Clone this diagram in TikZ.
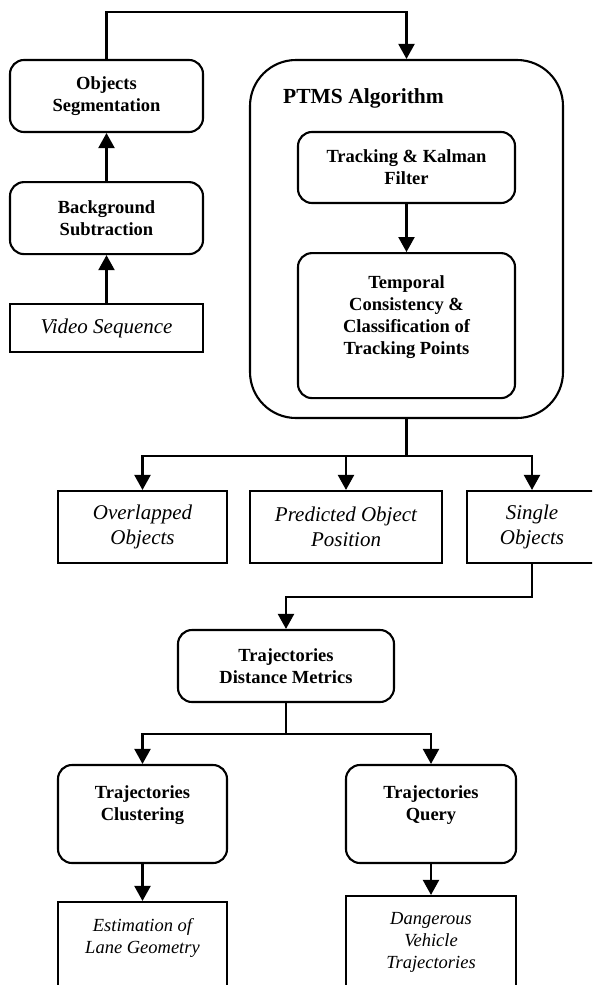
\documentclass[tikz,border=0pt]{standalone}
\usepackage{fontspec}
\setmainfont{Liberation Serif}
\usepackage{tikz}
\usetikzlibrary{positioning, arrows.meta}
\tikzset{
    procBox/.style={rectangle, draw=black, line width=2.1pt, rounded corners=14pt, fill=white, align=center, inner sep=0pt, font=\fontsize{18.5}{22}\selectfont\bfseries},
    dataBox/.style={rectangle, draw=black, line width=2.1pt, fill=white, align=center, inner sep=0pt, font=\fontsize{21}{25}\selectfont\itshape},
    outBox/.style={dataBox, font=\fontsize{18.5}{22}\selectfont\itshape},
    algoFrame/.style={rectangle, draw=black, line width=2.1pt, rounded corners=46pt, minimum width=313pt, minimum height=358pt},
    title/.style={font=\fontsize{21.5}{26}\selectfont\bfseries, anchor=west, inner sep=0pt},
    arrow/.style={-{Triangle[length=15pt, width=16pt]}, line width=2.1pt},
    link/.style={line width=2.1pt}
}

\begin{document}
\begin{tikzpicture}[x=1pt, y=-1pt]
        \useasboundingbox (0,0) rectangle (592,985);
        \clip (0,0) rectangle (592,985);

        % Preprocessing
        \node[procBox, minimum width=193pt, minimum height=72pt] (seg) at (106.5,96) {Objects\\ Segmentation};
        \node[procBox, minimum width=193pt, minimum height=72pt, below=48pt of seg] (bgsub) {Background\\ Subtraction};
        \node[dataBox, minimum width=193pt, minimum height=48pt, below=48pt of bgsub] (video) {Video Sequence};

        % PTMS block
        \node[algoFrame] (ptms) at (406.5,239) {};
        \node[title] (ptmsTitle) at (283,98) {PTMS Algorithm};
        \node[procBox, minimum width=217pt, minimum height=71pt] (kalman) at (406.5,167.5) {Tracking \& Kalman\\ Filter};
        \node[procBox, minimum width=217pt, minimum height=145pt, below=48pt of kalman] (temporal) {Temporal\\ Consistency \&\\ Classification of\\ Tracking Points\\};

        % Tracking outputs
        \node[dataBox, minimum width=169pt, minimum height=72pt] (overlap) at (142.5,527) {Overlapped\\ Objects};
        \node[dataBox, minimum width=192pt, minimum height=72pt] (predict) at (346,527) {Predicted Object\\ Position};
        \node[dataBox, minimum width=130pt, minimum height=72pt] (single) at (532,527) {Single\\ Objects};

        % Trajectory analysis
        \node[procBox, minimum width=216pt, minimum height=72pt] (tdm) at (286,666) {Trajectories\\ Distance Metrics};
        \node[procBox, minimum width=169pt, minimum height=98pt] (clust) at (142.5,814) {Trajectories\\ Clustering\\};
        \node[procBox, minimum width=170pt, minimum height=98pt] (query) at (431,814) {Trajectories\\ Query\\};
        \node[outBox, minimum width=169pt, minimum height=90pt] (lane) at (142.5,947) {Estimation of\\ Lane Geometry\\};
        \node[outBox, minimum width=170pt, minimum height=110pt] (danger) at (431,951) {Dangerous\\ Vehicle\\ Trajectories\\};

        % Rails and junctions
        \coordinate (topRail) at (0,12);
        \coordinate (splitA) at (406.5,456);
        \coordinate (railB) at (0,597);
        \coordinate (splitC) at (286,734);

        \draw[arrow] (video) -- (bgsub);
        \draw[arrow] (bgsub) -- (seg);
        \draw[arrow] (seg.north) -- (seg.north |- topRail) -| (ptms.north);
        \draw[arrow] (kalman) -- (temporal);
        \draw[link] (ptms.south) -- (splitA);
        \foreach \n in {overlap, predict, single}
            \draw[arrow] (splitA) -| (\n.north);
        \draw[arrow] (single.south) -- (single.south |- railB) -| (tdm.north);
        \draw[link] (tdm.south) -- (splitC);
        \foreach \n in {clust, query}
            \draw[arrow] (splitC) -| (\n.north);
        \draw[arrow] (clust) -- (lane);
        \draw[arrow] (query) -- (danger);
    \end{tikzpicture}
\end{document}
